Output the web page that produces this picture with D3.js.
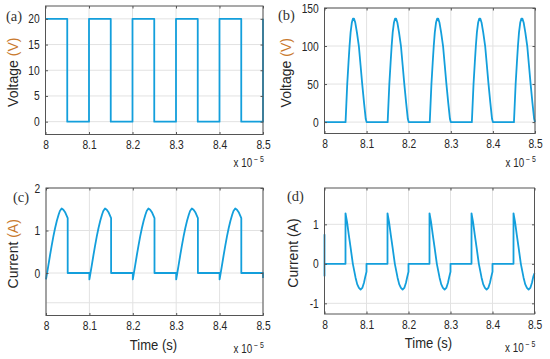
<!DOCTYPE html>
<html>
<head>
<meta charset="utf-8">
<script src="https://cdn.jsdelivr.net/npm/d3@7"></script>
<style>
  body { margin: 0; background: #fff; }
  svg { display: block; font-family: "Liberation Sans", Arial, sans-serif; }
</style>
</head>
<body>
<svg id="chart" width="550" height="359"></svg>
<script>
// time axis, in units of 1e-5 s
const timeTicks = [8, 8.1, 8.2, 8.3, 8.4, 8.5];

// (a) gate voltage
const aTime = [8.00, 8.05, 8.05, 8.10, 8.10, 8.15, 8.15, 8.20, 8.20, 8.25, 8.25,
  8.30, 8.30, 8.35, 8.35, 8.40, 8.40, 8.45, 8.45, 8.50, 8.50];
const aVolt = [20, 20, 0, 0, 20, 20, 0, 0, 20, 20, 0, 0, 20, 20, 0, 0, 20, 20, 0, 0, 20];
const aTicks = [0, 5, 10, 15, 20];

// (b) switch voltage
const bTime = [
  8.000,
  8.050, 8.052, 8.054, 8.057, 8.0595, 8.062, 8.065, 8.0675, 8.070, 8.073, 8.077, 8.0816, 8.0856, 8.0896, 8.094, 8.098, 8.100,
  8.150, 8.152, 8.154, 8.157, 8.1595, 8.162, 8.165, 8.1675, 8.170, 8.173, 8.177, 8.1816, 8.1856, 8.1896, 8.194, 8.198, 8.200,
  8.250, 8.252, 8.254, 8.257, 8.2595, 8.262, 8.265, 8.2675, 8.270, 8.273, 8.277, 8.2816, 8.2856, 8.2896, 8.294, 8.298, 8.300,
  8.350, 8.352, 8.354, 8.357, 8.3595, 8.362, 8.365, 8.3675, 8.370, 8.373, 8.377, 8.3816, 8.3856, 8.3896, 8.394, 8.398, 8.400,
  8.450, 8.452, 8.454, 8.457, 8.4595, 8.462, 8.465, 8.4675, 8.470, 8.473, 8.477, 8.4816, 8.4856, 8.4896, 8.494, 8.498, 8.500
];
const bVolt = [
  0,
  0, 25, 50, 78, 100, 118, 131, 136, 136, 131, 118, 100, 75, 50, 25, 4, 0,
  0, 25, 50, 78, 100, 118, 131, 136, 136, 131, 118, 100, 75, 50, 25, 4, 0,
  0, 25, 50, 78, 100, 118, 131, 136, 136, 131, 118, 100, 75, 50, 25, 4, 0,
  0, 25, 50, 78, 100, 118, 131, 136, 136, 131, 118, 100, 75, 50, 25, 4, 0,
  0, 25, 50, 78, 100, 118, 131, 136, 136, 131, 118, 100, 75, 50, 25, 4, 0
];
const bTicks = [0, 50, 100, 150];

// (c) switch current
const cTime = [
  8.000, 8.002, 8.005, 8.009, 8.013, 8.017, 8.021, 8.025, 8.029, 8.032, 8.036, 8.040, 8.044, 8.047, 8.050, 8.050,
  8.100, 8.100, 8.102, 8.105, 8.109, 8.113, 8.117, 8.121, 8.125, 8.129, 8.132, 8.136, 8.140, 8.144, 8.147, 8.150, 8.150,
  8.200, 8.200, 8.202, 8.205, 8.209, 8.213, 8.217, 8.221, 8.225, 8.229, 8.232, 8.236, 8.240, 8.244, 8.247, 8.250, 8.250,
  8.300, 8.300, 8.302, 8.305, 8.309, 8.313, 8.317, 8.321, 8.325, 8.329, 8.332, 8.336, 8.340, 8.344, 8.347, 8.350, 8.350,
  8.400, 8.400, 8.402, 8.405, 8.409, 8.413, 8.417, 8.421, 8.425, 8.429, 8.432, 8.436, 8.440, 8.444, 8.447, 8.450, 8.450,
  8.500, 8.500
];
const cCurr = [
  -0.15, -0.03, 0.15, 0.40, 0.64, 0.86, 1.06, 1.23, 1.37, 1.46, 1.52, 1.49, 1.43, 1.36, 1.29, 0,
  0, -0.15, -0.03, 0.15, 0.40, 0.64, 0.86, 1.06, 1.23, 1.37, 1.46, 1.52, 1.49, 1.43, 1.36, 1.29, 0,
  0, -0.15, -0.03, 0.15, 0.40, 0.64, 0.86, 1.06, 1.23, 1.37, 1.46, 1.52, 1.49, 1.43, 1.36, 1.29, 0,
  0, -0.15, -0.03, 0.15, 0.40, 0.64, 0.86, 1.06, 1.23, 1.37, 1.46, 1.52, 1.49, 1.43, 1.36, 1.29, 0,
  0, -0.15, -0.03, 0.15, 0.40, 0.64, 0.86, 1.06, 1.23, 1.37, 1.46, 1.52, 1.49, 1.43, 1.36, 1.29, 0,
  0, -0.12
];
const cTicks = [0, 1, 2];
const cExtraGrid = [-0.7];

// (d) diode current
const dTime = [
  8.000, 8.000, 8.000,
  8.050, 8.050, 8.0515, 8.054, 8.058, 8.062, 8.0675, 8.074, 8.078, 8.082, 8.086, 8.090, 8.094, 8.097, 8.100, 8.100,
  8.150, 8.150, 8.1515, 8.154, 8.158, 8.162, 8.1675, 8.174, 8.178, 8.182, 8.186, 8.190, 8.194, 8.197, 8.200, 8.200,
  8.250, 8.250, 8.2515, 8.254, 8.258, 8.262, 8.2675, 8.274, 8.278, 8.282, 8.286, 8.290, 8.294, 8.297, 8.300, 8.300,
  8.350, 8.350, 8.3515, 8.354, 8.358, 8.362, 8.3675, 8.374, 8.378, 8.382, 8.386, 8.390, 8.394, 8.397, 8.400, 8.400,
  8.450, 8.450, 8.4515, 8.454, 8.458, 8.462, 8.4675, 8.474, 8.478, 8.482, 8.486, 8.490, 8.494, 8.497, 8.500
];
const dCurr = [
  0.75, -0.30, 0,
  0, 1.28, 1.19, 1.04, 0.72, 0.42, 0, -0.35, -0.52, -0.61, -0.65, -0.61, -0.48, -0.33, -0.20, 0,
  0, 1.28, 1.19, 1.04, 0.72, 0.42, 0, -0.35, -0.52, -0.61, -0.65, -0.61, -0.48, -0.33, -0.20, 0,
  0, 1.28, 1.19, 1.04, 0.72, 0.42, 0, -0.35, -0.52, -0.61, -0.65, -0.61, -0.48, -0.33, -0.20, 0,
  0, 1.28, 1.19, 1.04, 0.72, 0.42, 0, -0.35, -0.52, -0.61, -0.65, -0.61, -0.48, -0.33, -0.20, 0,
  0, 1.28, 1.19, 1.04, 0.72, 0.42, 0, -0.35, -0.52, -0.61, -0.65, -0.61, -0.48, -0.33, -0.24
];
const dTicks = [-1, 0, 1];

const lineColor = "#139fdc";
const gridColor = "#e2e2e2";
const axisColor = "#555";
const textColor = "#262626";
const unitColor = "#c97a2e";
const squeeze = 0.82; // the figure text is a bit narrow

const panels = [
  { tag: "(a)", time: aTime, values: aVolt, yTicks: aTicks, yDomain: [-2.5, 22.5],
    left: 45.5, right: 263, top: 6, bottom: 134.5,
    ylabel: "Voltage ", unit: "(V)", unitColor: unitColor, xlabel: null,
    tagX: 6, tagY: 21, labelX: 18, expY: 32 },
  { tag: "(b)", time: bTime, values: bVolt, yTicks: bTicks, yDomain: [-15, 150],
    left: 324.5, right: 535, top: 8, bottom: 133.5,
    ylabel: "Voltage ", unit: "(V)", unitColor: unitColor, xlabel: null,
    tagX: 278, tagY: 20, labelX: 291, expY: 33 },
  { tag: "(c)", time: cTime, values: cCurr, yTicks: cTicks, yDomain: [-1, 2], extraGrid: cExtraGrid,
    left: 46, right: 263, top: 188, bottom: 315.5,
    ylabel: "Current ", unit: "(A)", unitColor: unitColor, xlabel: "Time (s)",
    tagX: 13, tagY: 202, labelX: 18, expY: 37 },
  { tag: "(d)", time: dTime, values: dCurr, yTicks: dTicks, yDomain: [-1.27, 1.92],
    left: 324.5, right: 534.5, top: 188, bottom: 314,
    ylabel: "Current ", unit: "(A)", unitColor: textColor, xlabel: "Time (s)",
    tagX: 287, tagY: 201, labelX: 298, expY: 38 }
];

const svg = d3.select("#chart");

const drawPanel = (p) => {
  const g = svg.append("g");
  const x = d3.scaleLinear().domain([8, 8.5]).range([p.left, p.right]);
  const y = d3.scaleLinear().domain(p.yDomain).range([p.bottom, p.top]);

  // grid
  g.selectAll("line.vgrid").data(timeTicks).enter().append("line")
    .attr("x1", (d) => x(d)).attr("x2", (d) => x(d))
    .attr("y1", p.top).attr("y2", p.bottom)
    .style("stroke", gridColor);
  g.selectAll("line.hgrid").data(p.yTicks.concat(p.extraGrid || [])).enter().append("line")
    .attr("x1", p.left).attr("x2", p.right)
    .attr("y1", (d) => y(d)).attr("y2", (d) => y(d))
    .style("stroke", gridColor);

  // the waveform
  const pts = p.time.map((t, i) => [t, p.values[i]]);
  g.append("path").datum(pts)
    .attr("d", d3.line().x((d) => x(d[0])).y((d) => y(d[1])))
    .style("fill", "none")
    .style("stroke", lineColor)
    .style("stroke-width", 1.8)
    .style("stroke-linejoin", "round");

  // axes: inward ticks on all four sides
  const bottomAx = g.append("g").attr("transform", `translate(0,${p.bottom})`)
    .call(d3.axisBottom(x).tickValues(timeTicks).tickSize(-2.5).tickPadding(6).tickFormat((d) => d));
  const leftAx = g.append("g").attr("transform", `translate(${p.left},0)`)
    .call(d3.axisLeft(y).tickValues(p.yTicks).tickSize(-2.5).tickPadding(7).tickFormat((d) => d));
  const topAx = g.append("g").attr("transform", `translate(0,${p.top})`)
    .call(d3.axisTop(x).tickValues(timeTicks).tickSize(-2.5).tickFormat(""));
  const rightAx = g.append("g").attr("transform", `translate(${p.right},0)`)
    .call(d3.axisRight(y).tickValues(p.yTicks).tickSize(-2.5).tickFormat(""));

  [bottomAx, leftAx, topAx, rightAx].forEach((ax) => {
    ax.select(".domain").remove();
    ax.selectAll("line").style("stroke", axisColor);
    ax.selectAll("text")
      .attr("transform", `scale(${squeeze},1)`)
      .style("font-size", "12.5px")
      .style("fill", textColor);
  });

  g.append("rect")
    .attr("x", p.left).attr("y", p.top)
    .attr("width", p.right - p.left).attr("height", p.bottom - p.top)
    .style("fill", "none").style("stroke", axisColor).style("stroke-width", 1);

  // exponent label
  const exp = g.append("text")
    .attr("transform", `translate(${p.right + 1},${p.bottom + p.expY}) scale(${squeeze},1)`)
    .style("text-anchor", "end").style("font-size", "12px").style("fill", textColor);
  exp.append("tspan").text("x 10");
  exp.append("tspan").attr("dy", -5).style("font-size", "8.5px").text(" \u2212 5");

  // y label
  const yl = g.append("text")
    .attr("transform", `translate(${p.labelX},${(p.top + p.bottom) / 2 + 2}) rotate(-90)`)
    .style("text-anchor", "middle").style("font-size", "14px").style("fill", textColor);
  yl.append("tspan").text(p.ylabel);
  yl.append("tspan").style("fill", p.unitColor).text(p.unit);

  // x label
  if (p.xlabel) {
    g.append("text")
      .attr("transform", `translate(${(p.left + p.right) / 2 - 1},${p.bottom + 34}) scale(0.9,1)`)
      .style("text-anchor", "middle").style("font-size", "14.5px").style("fill", textColor)
      .text(p.xlabel);
  }

  // panel tag
  g.append("text")
    .attr("x", p.tagX).attr("y", p.tagY)
    .style("font-family", "'Liberation Serif', 'Times New Roman', serif")
    .style("font-size", "14.5px").style("fill", "#333")
    .text(p.tag);
};

panels.forEach(drawPanel);
</script>
</body>
</html>
